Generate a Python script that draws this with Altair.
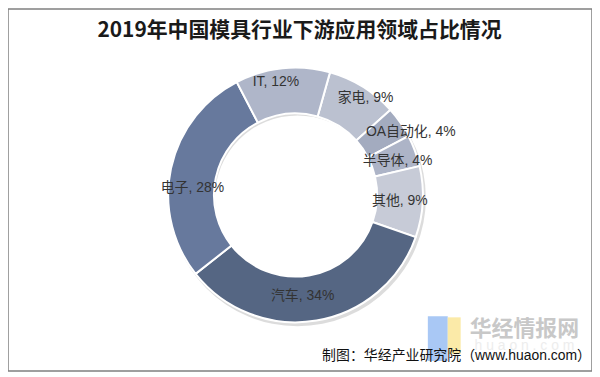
import math
import altair as alt
import pandas as pd

categories = ["家电", "OA自动化", "半导体", "其他", "汽车", "电子", "IT"]
values = [9, 4, 4, 9, 34, 28, 12]
colors = ["#bbc1d0", "#a3abbf", "#adb4c7", "#c7cbd7", "#556683", "#67799d", "#afb6c9"]

title_text = "2019年中国模具行业下游应用领域占比情况"
source_text = "制图：华经产业研究院（www.huaon.com）"

df = pd.DataFrame({
    "category": categories,
    "value": values,
    "idx": list(range(len(categories))),
})
df["label"] = [f"{c}, {v}%" for c, v in zip(categories, values)]

start = math.radians(15.7)
CX, CY = 289, 187
one = alt.Data(values=[{}])
theta_scale = alt.Scale(domain=[0, 100], range=[start, start + 2 * math.pi])

shadow = alt.Chart(one).mark_arc(
    theta=0, theta2=2 * math.pi, radius=129, radius2=83,
    color="#9a9a9a", opacity=0.35
).encode(x=alt.value(CX + 2), y=alt.value(CY + 3))

arcs = alt.Chart(df).mark_arc(radius=128, radius2=82, stroke="white", strokeWidth=2).encode(
    theta=alt.Theta("value:Q", stack=True, scale=theta_scale),
    order=alt.Order("idx:Q"),
    color=alt.Color("category:N", scale=alt.Scale(domain=categories, range=colors), legend=None),
    x=alt.value(CX), y=alt.value(CY),
)

label_base = alt.Chart(df).transform_window(
    cum="sum(value)", sort=[alt.SortField("idx")], frame=[None, 0]
).transform_calculate(
    mid="datum.cum - datum.value / 2"
).encode(
    theta=alt.Theta("mid:Q", stack=None, scale=theta_scale),
    text="label:N",
    x=alt.value(CX), y=alt.value(CY),
)

# label placement (radius in px, angular nudge in degrees), like Excel "best fit"
placement = {
    "IT": (115, -4), "家电": (120, 4), "OA自动化": (132, 6), "半导体": (108, 2),
    "其他": (105, 0), "汽车": (102, 5.5), "电子": (104, -8),
}
lab_font = "Liberation Sans, Noto Sans CJK SC"
label_layers = [
    label_base.transform_filter(alt.datum.category == cat).mark_text(
        radius=r, thetaOffset=math.radians(off), font=lab_font, fontSize=14, color="#333333"
    )
    for cat, (r, off) in placement.items()
]

title = alt.Chart(one).mark_text(
    text=title_text, font="Noto Sans CJK SC", fontSize=21, fontWeight="bold",
    color="#1a1a1a", align="center", baseline="middle"
).encode(x=alt.value(293), y=alt.value(22))

logo_blue = alt.Chart(one).mark_rect(color="#a9c8f5").encode(
    x=alt.value(422), x2=alt.value(442), y=alt.value(309), y2=alt.value(354))
logo_yellow = alt.Chart(one).mark_rect(color="#fbeaa8").encode(
    x=alt.value(442), x2=alt.value(455), y=alt.value(310), y2=alt.value(347))

wm = alt.Chart(one).mark_text(
    text="华经情报网", font="Noto Sans CJK SC", fontSize=22, fontWeight="bold",
    color="#c8c8c8", align="left", baseline="middle"
).encode(x=alt.value(464), y=alt.value(322))

wm2 = alt.Chart(one).mark_text(
    text="h u a o n . c o m", font="Liberation Sans", fontSize=14,
    color="#ededed", align="left", baseline="middle"
).encode(x=alt.value(469), y=alt.value(339))

source = alt.Chart(one).mark_text(
    text=source_text, font="Liberation Sans, Noto Sans CJK SC", fontSize=14,
    color="#111111", align="right", baseline="middle"
).encode(x=alt.value(586), y=alt.value(349))

chart = alt.layer(
    shadow, arcs, *label_layers, title,
    logo_blue, logo_yellow, wm, wm2, source
).properties(
    width=587, height=364,
    autosize=alt.AutoSizeParams(type="fit", contains="padding"),
    padding=0,
).configure_view(stroke="#808080", strokeWidth=1.5)

chart.save("out.html", embed_options={"renderer": "svg", "actions": False})
